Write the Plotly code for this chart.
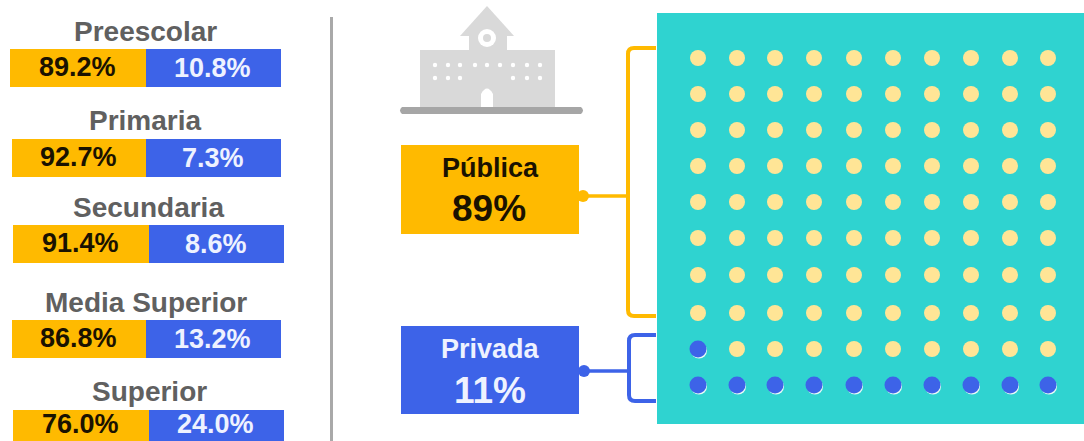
import plotly.graph_objects as go

# left panel data
niveles = ["Preescolar", "Primaria", "Secundaria", "Media Superior", "Superior"]
publica = [89.2, 92.7, 91.4, 86.8, 76.0]
privada = [10.8, 7.3, 8.6, 13.2, 24.0]

# right panel data
etiquetas = ["Pública", "Privada"]
totales = [89, 11]
n_filas = 10
n_cols = 10

AMBAR = "#FFBA00"
AZUL = "#3D63E8"
TEAL = "#2FD3D0"
CREMA = "#FFE596"
GRIS = "#606060"
FONT = "Liberation Sans"

# layout of the picture, in px
bar_top = [49, 139, 225, 320, 410]
bar_left = [10, 12, 13, 12, 13]
bar_mid = [146, 146, 149, 146, 149]
bar_right = [281, 281, 284, 281, 284]
title_y = [31, 120, 207, 302, 391]
title_x = [145, 145, 148, 146, 149]
col_x = [698, 737, 775, 814, 854, 893, 932, 971, 1010, 1048]
fila_y = [58, 94, 130, 166, 202, 238, 275, 313, 349, 385]

fig = go.Figure()

fig.add_trace(go.Bar(
    orientation="h",
    y=[t + 19 for t in bar_top],
    x=[m - l for m, l in zip(bar_mid, bar_left)],
    base=bar_left,
    width=38,
    marker=dict(color=AMBAR, line=dict(width=0)),
    showlegend=False,
))
fig.add_trace(go.Bar(
    orientation="h",
    y=[t + 19 for t in bar_top],
    x=[r - m for r, m in zip(bar_right, bar_mid)],
    base=bar_mid,
    width=38,
    marker=dict(color=AZUL, line=dict(width=0)),
    showlegend=False,
))

# the dots, filled from the bottom left corner: private first, the rest public
xs, ys = [], []
for f in range(n_filas - 1, -1, -1):
    for c in range(n_cols):
        xs.append(col_x[c])
        ys.append(fila_y[f])
k = totales[1]

fig.add_trace(go.Scatter(
    x=xs[k:], y=ys[k:], mode="markers",
    marker=dict(size=16, color=CREMA, line=dict(width=0)),
    showlegend=False,
))
# pale crescent below the blue dots
fig.add_trace(go.Scatter(
    x=[v + 1 for v in xs[:k]], y=[v + 1.5 for v in ys[:k]], mode="markers",
    marker=dict(size=16, color="#E8FBF5", line=dict(width=0)),
    showlegend=False,
))
fig.add_trace(go.Scatter(
    x=xs[:k], y=ys[:k], mode="markers",
    marker=dict(size=17, color=AZUL, line=dict(width=0)),
    showlegend=False,
))

shapes = []


def rect(x0, y0, x1, y1, color):
    shapes.append(dict(type="rect", x0=x0, y0=y0, x1=x1, y1=y1,
                       fillcolor=color, line_width=0, layer="below"))


def circ(cx, cy, r, color):
    shapes.append(dict(type="circle", x0=cx - r, y0=cy - r, x1=cx + r, y1=cy + r,
                       fillcolor=color, line_width=0, layer="below"))


def path(d, fill=None, line=None, width=0):
    s = dict(type="path", path=d, layer="below")
    if fill:
        s["fillcolor"] = fill
    s["line"] = dict(color=line or "rgba(0,0,0,0)", width=width)
    shapes.append(s)


# divider
rect(330, 17, 333, 441, "#A9A9A9")

# teal panel
rect(657, 13, 1084, 424, TEAL)

# school icon
path("M 487 6 L 514 36 L 460 36 Z", fill="#D9D9D9")
rect(469, 30, 507, 52, "#D9D9D9")
rect(420, 50, 555, 107, "#D9D9D9")
circ(487, 38, 9, "#FFFFFF")
circ(487, 38, 4, "#D9D9D9")
for wx in [435, 448, 460, 475, 487, 500, 513, 527, 540]:
    circ(wx, 65, 2.2, "#FFFFFF")
for wx in [435, 448, 460, 513, 527, 540]:
    circ(wx, 78, 2.2, "#FFFFFF")
path("M 481 107 L 481 94 Q 487 83 493 94 L 493 107 Z", fill="#FFFFFF")
path("M 402 107 L 581 107 Q 585 110.5 581 114 L 402 114 Q 398 110.5 402 107 Z", fill="#A6A6A6")

# label boxes
rect(401, 145, 579, 234, AMBAR)
rect(401, 326, 579, 414, AZUL)

# brackets
path("M 656 48 L 634 48 Q 628 48 628 54 L 628 310 Q 628 316 634 316 L 656 316",
     line=AMBAR, width=4)
path("M 580 196 L 628 196", line=AMBAR, width=3.5)
circ(583, 196, 6, AMBAR)
path("M 656 335 L 635 335 Q 629 335 629 341 L 629 395 Q 629 401 635 401 L 656 401",
     line=AZUL, width=4)
path("M 580 371 L 629 371", line=AZUL, width=3.5)
circ(584, 371, 6, AZUL)

fig.update_layout(
    width=1084, height=441,
    margin=dict(l=0, r=0, t=0, b=0),
    paper_bgcolor="white", plot_bgcolor="white",
    barmode="overlay",
    shapes=shapes,
    xaxis=dict(range=[0, 1084], visible=False, fixedrange=True),
    yaxis=dict(range=[441, 0], visible=False, fixedrange=True),
    font=dict(family=FONT),
)


def txt(x, y, s, size, color):
    fig.add_annotation(x=x, y=y, text="<b>%s</b>" % s, showarrow=False,
                       font=dict(family=FONT, size=size, color=color))


for i in range(len(niveles)):
    txt(title_x[i], title_y[i], niveles[i], 28, GRIS)
    # last row sits against the bottom edge, keep its labels inside the page
    txt((bar_left[i] + bar_mid[i]) / 2 - 1, min(bar_top[i] + 18, 424), "%.1f%%" % publica[i], 27, "#1A1200")
    txt((bar_mid[i] + bar_right[i]) / 2 - 1, min(bar_top[i] + 19, 424), "%.1f%%" % privada[i], 27, "#EEF2FF")

txt(490, 168, etiquetas[0], 27, "#1A1200")
txt(489, 208, "%d%%" % totales[0], 37, "#1A1200")
txt(490, 349, etiquetas[1], 27, "#EEF2FF")
txt(490, 390, "%d%%" % totales[1], 37, "#EEF2FF")

fig.write_html("out.html", config=dict(displayModeBar=False),
               post_script="document.body.style.margin='0';document.body.style.overflow='hidden';")
